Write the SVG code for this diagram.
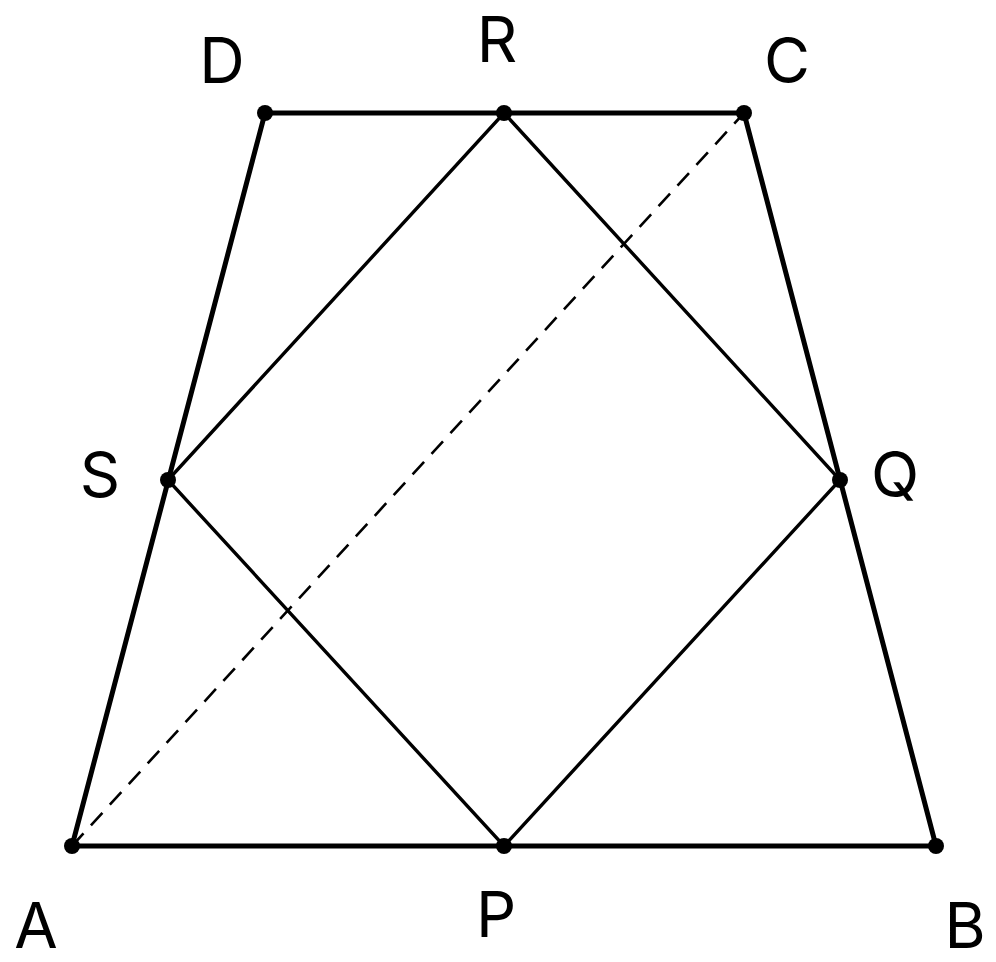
<svg xmlns="http://www.w3.org/2000/svg" width="996" height="962" viewBox="0 0 996 962">
<style>
.thick{stroke:#000;stroke-width:5;fill:none;stroke-linecap:round}
.thin{stroke:#000;stroke-width:3.4;fill:none;stroke-linecap:round}
.dash{stroke:#000;stroke-width:2.6;fill:none;stroke-dasharray:17 11}
.lbl{font-family:Inter,"Liberation Sans",sans-serif;font-size:63px;fill:#000;text-anchor:middle}
</style>
<rect width="996" height="962" fill="#fff"/>
<g id="connectors">
<line class="dash" x1="72" y1="846" x2="744" y2="113"/>
<polygon class="thick" points="72,846 936,846 744,113 265,113"/>
<polygon class="thin" points="504,113 840,480 504,846 168,480"/>
</g>
<g id="A"><circle cx="72" cy="846" r="8"/><text class="lbl" x="36" y="948">A</text></g>
<g id="B"><circle cx="936" cy="846" r="8"/><text class="lbl" x="965" y="948">B</text></g>
<g id="C"><circle cx="744" cy="113" r="8"/><text class="lbl" x="787" y="83">C</text></g>
<g id="D"><circle cx="265" cy="113" r="8"/><text class="lbl" x="222" y="83">D</text></g>
<g id="R"><circle cx="504" cy="113" r="8"/><text class="lbl" x="497" y="62">R</text></g>
<g id="P"><circle cx="504" cy="846" r="8"/><text class="lbl" x="496" y="937">P</text></g>
<g id="S"><circle cx="168" cy="480" r="8"/><text class="lbl" x="100" y="497">S</text></g>
<g id="Q"><circle cx="840" cy="480" r="8"/><text class="lbl" x="895" y="497">Q</text></g>
</svg>
